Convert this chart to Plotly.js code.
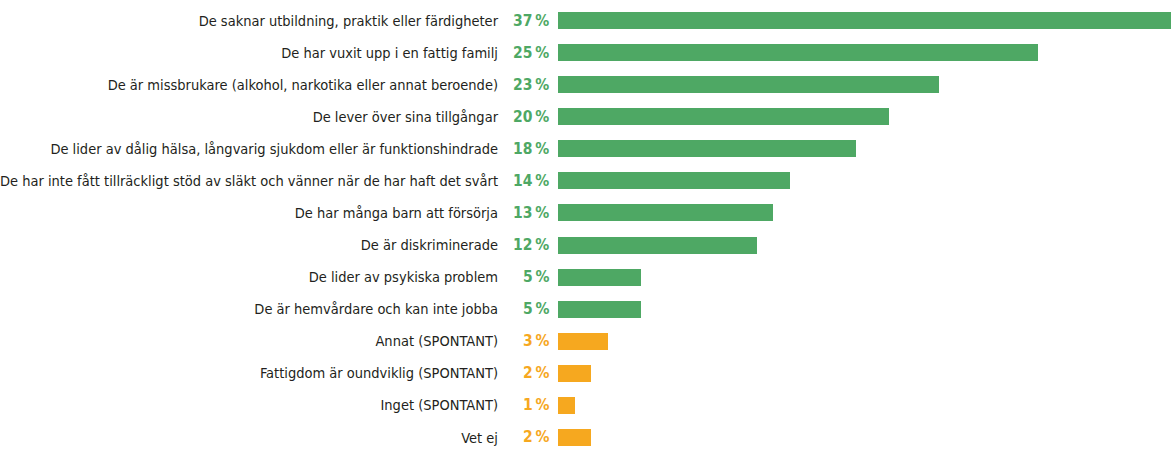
<!DOCTYPE html>
<html>
<head>
<meta charset="utf-8">
<script src="https://cdn.plot.ly/plotly-3.0.1.min.js"></script>
<style>
html,body{margin:0;padding:0;background:#fff;}
#chart{width:1171px;height:449px;}
</style>
</head>
<body>
<div id="chart"></div>
<script>
// Categories (top to bottom)
var categories = [
  "De saknar utbildning, praktik eller färdigheter",
  "De har vuxit upp i en fattig familj",
  "De är missbrukare (alkohol, narkotika eller annat beroende)",
  "De lever över sina tillgångar",
  "De lider av dålig hälsa, långvarig sjukdom eller är funktionshindrade",
  "De har inte fått tillräckligt stöd av släkt och vänner när de har haft det svårt",
  "De har många barn att försörja",
  "De är diskriminerade",
  "De lider av psykiska problem",
  "De är hemvårdare och kan inte jobba",
  "Annat (SPONTANT)",
  "Fattigdom är oundviklig (SPONTANT)",
  "Inget (SPONTANT)",
  "Vet ej"
];
// Bar lengths as drawn in the picture (%)
var barValues = [37, 29, 23, 20, 18, 14, 13, 12, 5, 5, 3, 2, 1, 2];
// Percentages printed next to the bars
var printedValues = [37, 25, 23, 20, 18, 14, 13, 12, 5, 5, 3, 2, 1, 2];
// Group: "main" answers vs "spontaneous" answers
var groups = ["main","main","main","main","main","main","main","main","main","main","spont","spont","spont","spont"];

var groupColors = {main: "#4EA864", spont: "#F6A81F"};
var colors = groups.map(function(g){ return groupColors[g]; });
var FONT = "'DejaVu Sans Condensed', 'DejaVu Sans', sans-serif";

var trace = {
  type: "bar",
  orientation: "h",
  y: categories,
  x: barValues,
  marker: {color: colors, line: {width: 0}},
  width: 0.53,
  hoverinfo: "none"
};

var annotations = categories.map(function(c, i){
  return {
    xref: "paper", yref: "y",
    x: 0, y: c,
    xanchor: "right", yanchor: "middle",
    xshift: -7,
    text: "<b>" + printedValues[i] + "\u2009%</b>",
    showarrow: false,
    font: {family: FONT, size: 15.5, color: colors[i]}
  };
});

var layout = {
  width: 1171, height: 449,
  margin: {l: 558, r: 0, t: 0, b: 0, pad: 0},
  paper_bgcolor: "#fff", plot_bgcolor: "#fff",
  showlegend: false,
  bargap: 0,
  xaxis: {range: [0, 37.0], showgrid: false, zeroline: false, showticklabels: false, showline: false, ticks: ""},
  yaxis: {
    type: "category",
    range: [13.359, -0.639],
    showgrid: false, zeroline: false, showline: false, ticks: "",
    ticklabelstandoff: 59,
    tickfont: {family: FONT, size: 14.5, color: "#231F20"}
  },
  annotations: annotations,
  font: {family: FONT}
};

Plotly.newPlot("chart", [trace], layout, {staticPlot: true, displayModeBar: false});
</script>
</body>
</html>
